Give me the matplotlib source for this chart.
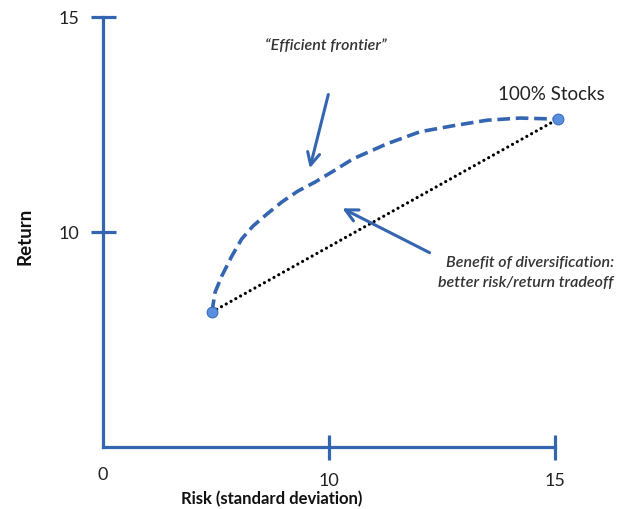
import matplotlib
matplotlib.use("Agg")
import matplotlib.pyplot as plt
import matplotlib.transforms as mtransforms

plt.rcParams['font.family'] = ['Lato', 'DejaVu Sans']

BLUE = "#3465b0"
DOT_BLUE = "#5a8fe0"

# efficient frontier (dashed curve)
frontier_risk = [7.41, 7.48, 7.63, 7.85, 8.07, 8.32, 8.63, 8.96, 9.31, 9.69, 10.07,
                 10.53, 11.28, 12.01, 12.74, 13.50, 14.23, 14.89, 15.07]
frontier_return = [8.14, 8.60, 8.98, 9.44, 9.84, 10.14, 10.42, 10.70, 10.95, 11.16, 11.40,
                   11.70, 12.05, 12.33, 12.47, 12.60, 12.65, 12.63, 12.63]

# the two portfolios at the ends
end_risk = [7.41, 15.07]
end_return = [8.14, 12.63]

x_ticks = [10, 15]
x_ticklabels = ["10", "15"]
y_ticks = [10, 15]
y_ticklabels = ["10", "15"]

fig = plt.figure(figsize=(6.24, 5.1), dpi=100)
ax = fig.add_axes([103 / 624, 62 / 510, 452 / 624, 430 / 510])
ax.set_xlim(5, 15)
ax.set_ylim(5, 15)

#spines
for side in ["top", "right"]:
    ax.spines[side].set_visible(False)
for side in ["left", "bottom"]:
    ax.spines[side].set_color(BLUE)
    ax.spines[side].set_linewidth(2.3)

ax.set_xticks(x_ticks, x_ticklabels)
ax.set_yticks(y_ticks, y_ticklabels)
ax.tick_params(axis="both", direction="inout", length=18, width=2.3, color=BLUE,
               labelsize=13, labelcolor="#222222")
ax.tick_params(axis="x", pad=9)
ax.tick_params(axis="y", pad=8)

# "0" at the origin
trans = mtransforms.blended_transform_factory(ax.transData, fig.transFigure)
ax.text(5, 1 - 475 / 510, "0", transform=trans, ha="center", va="center",
        fontsize=13, color="#222222")

fig.text(272 / 624, 1 - 499 / 510, "Risk (standard deviation)", ha="center", va="center",
         fontsize=12, fontweight="bold", color="#111111")
fig.text(25 / 624, 1 - 236 / 510, "Return", ha="center", va="center", rotation=90,
         fontsize=13.5, fontweight="bold", color="#111111")

#lines
ax.plot(frontier_risk, frontier_return, color=BLUE, lw=2.6, linestyle=(0, (3.5, 1.6)),
        clip_on=False, zorder=3)
ax.plot(end_risk, end_return, color="black", lw=2.3, linestyle=(0, (0.01, 1.7)),
        dash_capstyle="round", clip_on=False, zorder=3)
ax.scatter(end_risk, end_return, s=60, color=DOT_BLUE, edgecolor="#3a6cc0", lw=0.8,
           clip_on=False, zorder=4)

#annotations
ax.text(14.93, 13.23, "100% Stocks", ha="center", va="center", fontsize=13.5, color="#222222")
ax.annotate("", xy=(9.56, 11.42), xytext=(10.0, 13.26),
            arrowprops=dict(arrowstyle="->", color=BLUE, lw=2.2, mutation_scale=22))
ax.text(9.93, 14.36, "\u201cEfficient frontier\u201d", ha="center", va="center",
        fontsize=11.5, style="italic", fontweight="semibold", color="#333333")
ax.annotate("", xy=(10.24, 10.58), xytext=(12.28, 9.49),
            arrowprops=dict(arrowstyle="->", color=BLUE, lw=2.2, mutation_scale=22))
ax.text(16.3, 9.07, "Benefit of diversification:\nbetter risk/return tradeoff", ha="right",
        va="center", fontsize=11.5, style="italic", fontweight="semibold", color="#333333",
        linespacing=1.5)

fig.savefig("out.png", dpi=100)
